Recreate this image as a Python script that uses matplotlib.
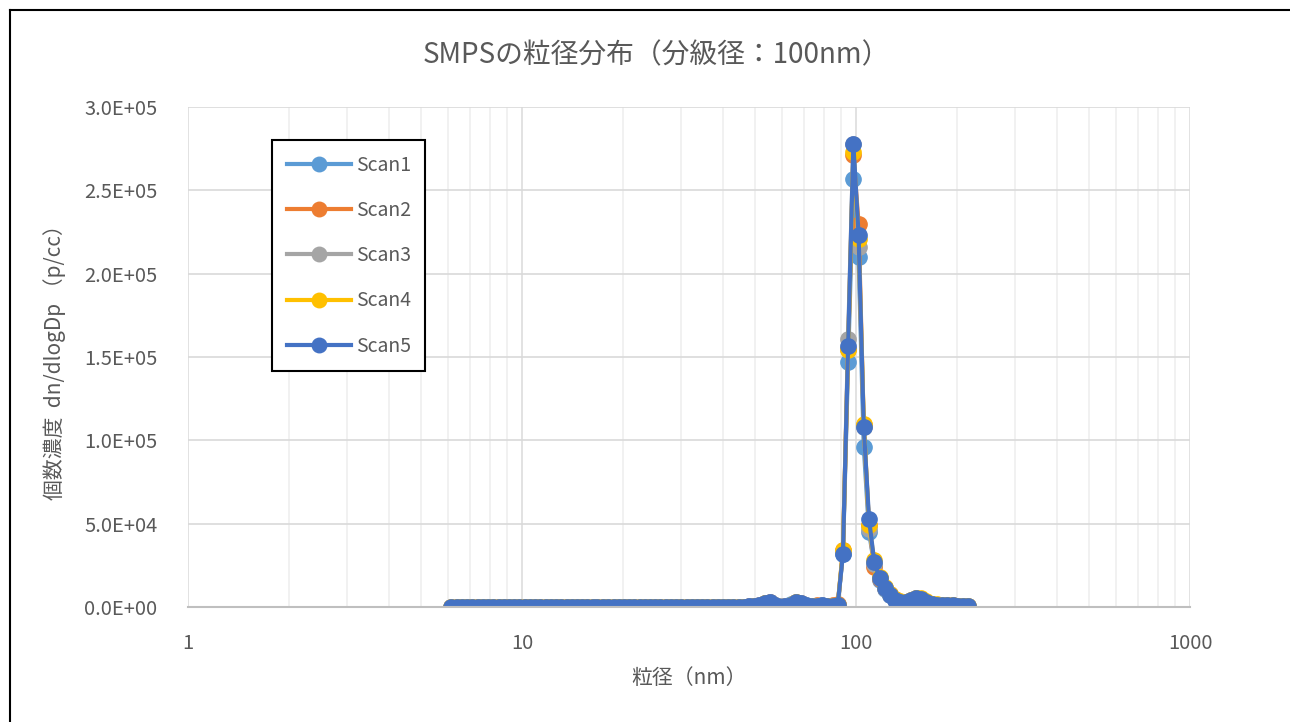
import numpy as np
import matplotlib
matplotlib.use('Agg')
import matplotlib.pyplot as plt
from matplotlib.ticker import FuncFormatter, LogLocator, NullFormatter
from matplotlib.lines import Line2D

plt.rcParams['font.family'] = ['Noto Sans CJK JP', 'DejaVu Sans']

# SMPS channel mid-point diameters (nm), 64 ch/decade
diam = [6.15, 6.38, 6.61, 6.85, 7.10, 7.37, 7.64, 7.91, 8.20, 8.51,
        8.82, 9.14, 9.47, 9.82, 10.2, 10.6, 10.9, 11.3, 11.8, 12.2,
        12.6, 13.1, 13.6, 14.1, 14.6, 15.1, 15.7, 16.3, 16.8, 17.5,
        18.1, 18.8, 19.5, 20.2, 20.9, 21.7, 22.5, 23.3, 24.1, 25.0,
        25.9, 26.9, 27.9, 28.9, 30.0, 31.1, 32.2, 33.4, 34.6, 35.9,
        37.2, 38.5, 40.0, 41.4, 42.9, 44.5, 46.1, 47.8, 49.6, 51.4,
        53.3, 55.2, 57.3, 59.4, 61.5, 63.8, 66.1, 68.5, 71.0, 73.7,
        76.4, 79.1, 82.0, 85.1, 88.2, 91.4, 94.7, 98.2, 101.8, 105.5,
        109.4, 113.4, 117.6, 121.9, 126.3, 131.0, 135.8, 140.7, 145.9, 151.2,
        156.8, 162.5, 168.5, 174.7, 181.1, 187.7, 194.6, 201.7, 209.1, 216.7]

scan1 = [210, 150, 90, 180, 60, 130, 240, 110, 70, 160,
         200, 90, 140, 50, 120, 180, 230, 100, 80, 150,
         170, 60, 120, 210, 140, 90, 110, 190, 160, 70,
         130, 220, 100, 150, 80, 180, 120, 90, 250, 140,
         110, 170, 60, 200, 130, 190, 150, 80, 240, 160,
         120, 210, 180, 260, 150, 300, 220, 350, 400, 900,
         2300, 2800, 1300, 400, 600, 1600, 2900, 2300, 1100, 700,
         900, 1000, 800, 900, 1400, 32000, 147000, 257000, 210000, 96000,
         45000, 25000, 16500, 11000, 7000, 4300, 3000, 2900, 4000, 5300,
         4800, 3000, 1900, 1400, 1200, 1100, 1000, 900, 700, 500]

scan2 = [120, 200, 160, 80, 170, 110, 60, 190, 140, 100,
         70, 180, 130, 210, 90, 60, 150, 200, 120, 80,
         140, 190, 100, 60, 170, 220, 130, 80, 110, 180,
         150, 90, 200, 60, 140, 110, 170, 230, 80, 120,
         190, 90, 160, 110, 70, 140, 200, 180, 100, 130,
         220, 160, 90, 180, 240, 200, 280, 310, 380, 1100,
         2600, 3100, 1100, 300, 500, 1500, 3200, 2600, 900, 800,
         1000, 900, 700, 1000, 1600, 34000, 155000, 271000, 230000, 109000,
         49000, 24000, 17000, 11500, 7800, 4700, 3300, 3100, 4300, 5600,
         5100, 3300, 2100, 1500, 1300, 1200, 1100, 900, 700, 500]

scan3 = [90, 140, 220, 120, 100, 190, 150, 70, 210, 130,
         160, 110, 80, 170, 200, 140, 90, 120, 230, 160,
         100, 150, 180, 90, 120, 70, 200, 140, 170, 110,
         90, 160, 130, 210, 180, 70, 140, 110, 160, 200,
         80, 130, 210, 150, 170, 100, 120, 230, 140, 190,
         110, 170, 240, 120, 200, 260, 190, 330, 360, 1000,
         2400, 2900, 1200, 400, 600, 1400, 3000, 2400, 1000, 700,
         800, 1100, 900, 800, 1500, 33000, 161000, 278000, 216000, 108000,
         47000, 26000, 17200, 11200, 7400, 4500, 3200, 3000, 4100, 5400,
         5000, 3100, 2000, 1500, 1300, 1100, 1000, 800, 600, 400]

scan4 = [160, 70, 130, 200, 150, 90, 120, 180, 100, 60,
         140, 210, 170, 90, 130, 110, 80, 190, 150, 200,
         60, 130, 160, 110, 80, 190, 150, 100, 220, 140,
         170, 80, 120, 160, 210, 130, 90, 150, 110, 70,
         160, 200, 120, 90, 180, 150, 70, 130, 170, 210,
         140, 100, 160, 200, 170, 230, 260, 300, 330, 800,
         2200, 2700, 600, -800, 200, 1300, 2800, 1900, -600, 600,
         700, 800, 600, 900, 1300, 34000, 154000, 273000, 221000, 110000,
         49000, 28000, 18000, 12000, 8000, 4800, 3400, 3200, 4400, 5700,
         5200, 3400, 2100, 1600, 1400, 1200, 1100, 900, 700, 500]

scan5 = [180, 110, 150, 90, 200, 140, 80, 160, 120, 190,
         100, 150, 70, 180, 140, 110, 160, 90, 130, 200,
         150, 110, 80, 170, 120, 140, 90, 160, 130, 190,
         100, 140, 170, 110, 150, 90, 180, 130, 120, 160,
         140, 100, 180, 130, 160, 120, 190, 110, 150, 170,
         130, 200, 150, 220, 180, 250, 240, 320, 370, 1000,
         2500, 3000, 1200, 300, 500, 1500, 3000, 2500, 1000, 800,
         900, 1000, 800, 900, 1500, 32000, 156600, 277600, 223200, 107800,
         52600, 27200, 17500, 11500, 7500, 4500, 3200, 3000, 4200, 5500,
         5000, 3200, 2000, 1500, 1300, 1200, 1100, 900, 700, 500]

names = ['Scan1', 'Scan2', 'Scan3', 'Scan4', 'Scan5']
colors = ['#5B9BD5', '#ED7D31', '#A5A5A5', '#FFC000', '#4472C4']
scans = [scan1, scan2, scan3, scan4, scan5]

txt = '#595959'

fig = plt.figure(figsize=(12.9, 7.22), dpi=100)
ax = fig.add_axes([188/1290, 1-607/722, 1002/1290, 500/722])

for nm, c, s in zip(names, colors, scans):
  ax.plot(diam, s, color=c, lw=3, marker='o', ms=11, mec=c, mfc=c, label=nm)

ax.set_xscale('log')
ax.set_xlim(1, 1000)
ax.set_ylim(0, 300000)
ax.set_yticks(np.arange(0, 300001, 50000))
ax.yaxis.set_major_formatter(FuncFormatter(lambda v, p: '%.1E' % v))
ax.xaxis.set_major_formatter(FuncFormatter(lambda v, p: '%d' % v))
ax.xaxis.set_minor_locator(LogLocator(base=10, subs=np.arange(2, 10)))
ax.xaxis.set_minor_formatter(NullFormatter())

# excel-like grid
ax.grid(which='major', axis='y', color='#D9D9D9', lw=1.2)
ax.grid(which='major', axis='x', color='#DDDDDD', lw=1.2)
ax.grid(which='minor', axis='x', color='#EFEFEF', lw=1.2)
ax.set_axisbelow(True)
for sp in ['top', 'right', 'left']:
  ax.spines[sp].set_visible(False)
ax.spines['bottom'].set_color('#BFBFBF')
ax.spines['bottom'].set_linewidth(1.5)
ax.tick_params(which='both', length=0, colors=txt, labelsize=14.5)
ax.tick_params(axis='x', pad=19)
ax.tick_params(axis='y', pad=22)

ax.set_xlabel('粒径（nm）', fontsize=15, color=txt, labelpad=9)
ax.set_ylabel('個数濃度  dn/dlogDp （p/cc）', fontsize=15, color=txt, labelpad=13)
fig.text(0.509, 1-55/722, 'SMPSの粒径分布（分級径：100nm）', fontsize=20, color=txt,
         ha='center', va='center')

leg = ax.legend(loc='upper left', bbox_to_anchor=(0.0838, 0.934), borderaxespad=0,
                fontsize=14, labelspacing=1.25, borderpad=0.75, handlelength=3.3,
                handletextpad=0.25, markerscale=0.95, fancybox=False, framealpha=1,
                edgecolor='black')
leg.get_frame().set_linewidth(1.5)
for t in leg.get_texts():
  t.set_color(txt)

# outer chart border (top and left visible)
fig.add_artist(Line2D([10/1290, 10/1290], [0, 1-10/722], color='black', lw=1.5))
fig.add_artist(Line2D([10/1290, 1], [1-10/722, 1-10/722], color='black', lw=1.5))

fig.savefig('out.png', dpi=100)
